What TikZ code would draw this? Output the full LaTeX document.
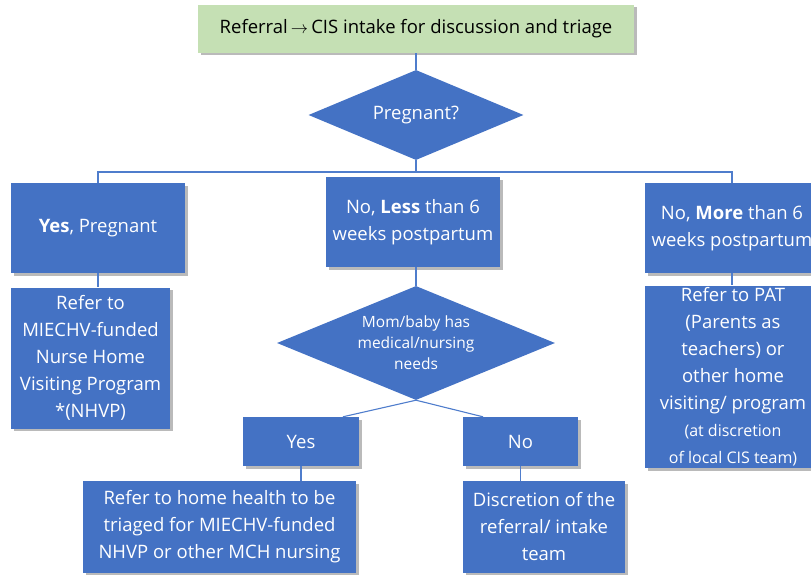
\documentclass[tikz,border=0pt]{standalone}
\usepackage{amsmath}
\usepackage{fontspec}
\setmainfont{Open Sans}
\usetikzlibrary{shapes.geometric,shadows,calc}
\definecolor{boxblue}{RGB}{68,114,196}
\definecolor{linkblue}{RGB}{79,125,204}
\definecolor{topgreen}{RGB}{197,224,180}

\begin{document}
\begin{tikzpicture}[x=1pt,y=-1pt,
    box/.style={fill=boxblue,text=white,align=center,inner sep=2pt,
        drop shadow={shadow xshift=2.5pt,shadow yshift=-2.5pt,fill=black!45,opacity=0.6},
        font=\fontsize{18.5}{27}\selectfont},
    decision/.style={diamond,fill=boxblue,text=white,align=center,inner sep=0pt},
    link/.style={draw=linkblue,line width=1.1pt}]
        \useasboundingbox (0,0) rectangle (811,575);
        % Draw top of the tree
        \node[box,fill=topgreen,text=black,minimum width=436pt,minimum height=48pt,
            font=\fontsize{18.5}{27}\selectfont] (referral) at (416,29)
            {Referral\,$\rightarrow$\,CIS intake for discussion and triage};
        \node[decision,minimum width=215pt,minimum height=90pt,shape aspect=2.4,
            font=\fontsize{18.5}{27}\selectfont] (pregnant) at (416,115) {Pregnant?};
        \coordinate (bus) at (416,172);

        % Draw the three answers
        \node[box,minimum width=174pt,minimum height=90pt] (yesPreg) at (98,228)
            {\textbf{Yes}, Pregnant};
        \node[box,minimum width=174pt,minimum height=90pt] (lessSix) at (413,222)
            {No, \textbf{Less} than 6\\weeks postpartum};
        \node[box,minimum width=174pt,minimum height=90pt] (moreSix) at (732,228)
            {No, \textbf{More} than 6\\weeks postpartum};

        \node[box,minimum width=159pt,minimum height=141pt] (nhvp) at (90.5,358)
            {Refer to\\MIECHV-funded\\Nurse Home\\Visiting Program\\*(NHVP)};
        \node[box,minimum width=176pt,minimum height=182pt] (pat) at (733,377)
            {Refer to PAT\\(Parents as\\teachers) or\\other home\\visiting/ program\\
            \fontsize{16}{22}\selectfont (at discretion\\
            \fontsize{16}{22}\selectfont of local CIS team)};

        % Draw the second question
        \node[decision,minimum width=278pt,minimum height=114pt,shape aspect=2.44,
            font=\fontsize{15.5}{21}\selectfont] (needs) at (416,343)
            {Mom/baby has\\medical/nursing\\needs};
        \node[box,minimum width=116pt,minimum height=49pt] (yesNeeds) at (301,441.5) {Yes};
        \node[box,minimum width=115pt,minimum height=49pt] (noNeeds) at (520.5,441.5) {No};
        \node[box,minimum width=273pt,minimum height=92pt] (homeHealth) at (219.5,527)
            {Refer to home health to be\\triaged for MIECHV-funded\\NHVP or other MCH nursing};
        \node[box,minimum width=162pt,minimum height=92pt] (discretion) at (544,527)
            {Discretion of the\\referral/ intake\\team};

        % Draw connectors
        \draw[link] (referral.south) -- (pregnant.north);
        \draw[link] (pregnant.south) -- (bus);
        \draw[link] (yesPreg.north) |- (bus) -| (moreSix.north);
        \draw[link] (yesPreg.south) -- (yesPreg.south |- nhvp.north);
        \draw[link] (moreSix.south) -- (moreSix.south |- pat.north);
        \draw[link] (needs.north |- lessSix.south) -- (needs.north);
        \draw[link] (needs.south) -- ($(yesNeeds.north)!0.72!(yesNeeds.north east)$);
        \draw[link] (needs.south) -- ($(noNeeds.north)!-0.65!(noNeeds.north east)$);
        \draw[link] (yesNeeds.south) -- (yesNeeds.south |- homeHealth.north);
        \draw[link] (noNeeds.south) -- (noNeeds.south |- discretion.north);
\end{tikzpicture}
\end{document}
